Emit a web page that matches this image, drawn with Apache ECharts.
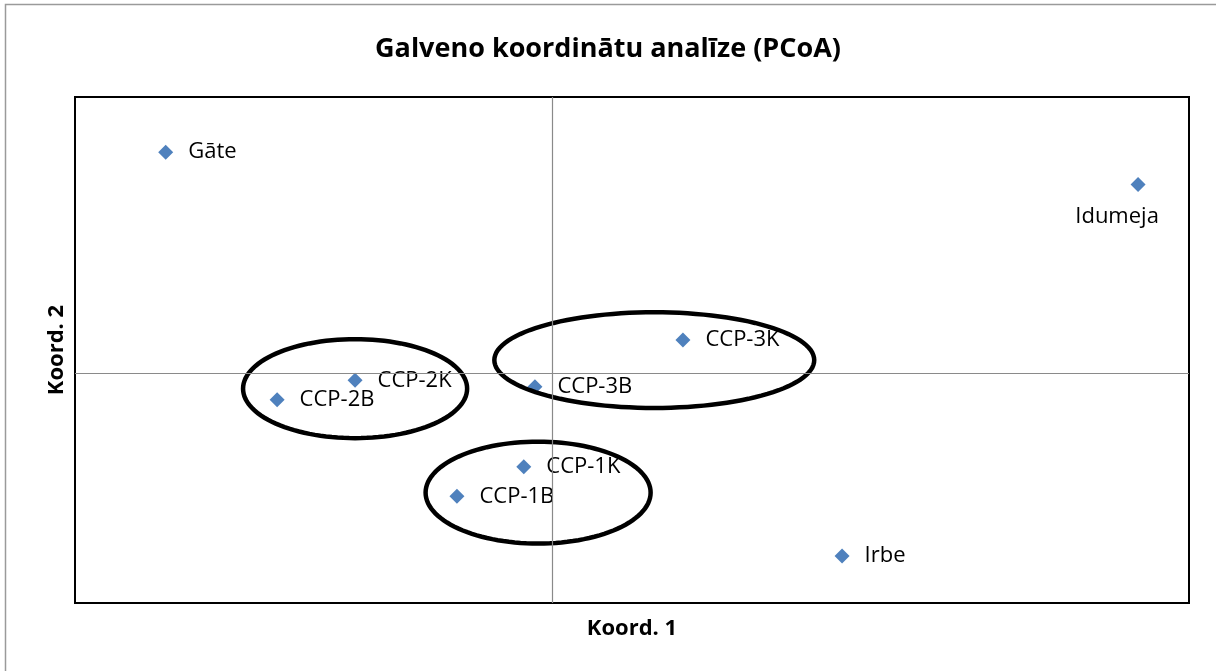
<!DOCTYPE html>
<html>
<head>
<meta charset="utf-8">
<script src="https://cdn.jsdelivr.net/npm/echarts@6/dist/echarts.min.js"></script>
<style>
html,body{margin:0;padding:0;background:#fff;}
#c{width:1216px;height:671px;}
</style>
</head>
<body>
<div id="c"></div>
<script>
// Sample names and PCoA coordinates
const names = ['Gāte', 'Idumeja', 'CCP-2K', 'CCP-2B', 'CCP-1K', 'CCP-1B', 'CCP-3B', 'CCP-3K', 'Irbe'];
const koord1 = [-0.243, 0.368, -0.124, -0.173, -0.018, -0.060, -0.011, 0.082, 0.182];
const koord2 = [0.240, 0.205, -0.008, -0.029, -0.102, -0.134, -0.015, 0.036, -0.199];
// Group ellipses: centre x, centre y, radius x, radius y (data units)
const ellipseCx = [-0.124, 0.064, -0.009];
const ellipseCy = [-0.017, 0.014, -0.130];
const ellipseRx = [0.0704, 0.1005, 0.0707];
const ellipseRy = [0.0538, 0.052, 0.0554];

const FONT = '"Open Sans", "Noto Sans", sans-serif';

const pointData = names.map((n, i) => {
  const item = { name: n, value: [koord1[i], koord2[i]] };
  if (n === 'Idumeja') {
    item.label = { position: 'bottom', distance: 14, offset: [-21, 0] };
  }
  return item;
});
const ellipseData = ellipseCx.map((cx, i) => [cx, ellipseCy[i], ellipseRx[i], ellipseRy[i]]);

const chart = echarts.init(document.getElementById('c'), null, { renderer: 'canvas' });
chart.setOption({
  backgroundColor: '#fff',
  animation: false,
  title: {
    text: 'Galveno koordinātu analīze (PCoA)',
    left: 'center',
    top: 31,
    textStyle: { fontFamily: FONT, fontWeight: 'bold', fontSize: 27, color: '#000' }
  },
  graphic: [{
    type: 'rect', left: 3, top: 2, silent: true,
    shape: { width: 1300, height: 800 },
    style: { fill: 'none', stroke: '#9a9a9a', lineWidth: 1.5 }
  }],
  grid: {
    left: 75, right: 27, top: 97, bottom: 68,
    show: true, borderColor: '#000', borderWidth: 2, backgroundColor: 'transparent'
  },
  xAxis: {
    type: 'value', min: -0.3, max: 0.4,
    name: 'Koord. 1', nameLocation: 'middle', nameGap: 15,
    nameTextStyle: { fontFamily: FONT, fontWeight: 'bold', fontSize: 22, color: '#000' },
    axisLine: { show: false, onZero: false }, axisTick: { show: false },
    axisLabel: { show: false }, splitLine: { show: false }
  },
  yAxis: {
    type: 'value', min: -0.25, max: 0.3,
    name: 'Koord. 2', nameLocation: 'middle', nameGap: 7,
    nameTextStyle: { fontFamily: FONT, fontWeight: 'bold', fontSize: 22, color: '#000' },
    axisLine: { show: false, onZero: false }, axisTick: { show: false },
    axisLabel: { show: false }, splitLine: { show: false }
  },
  series: [{
    type: 'scatter',
    data: pointData,
    symbol: 'diamond',
    symbolSize: 15,
    itemStyle: { color: '#4F81BD', opacity: 1 },
    label: {
      show: true, position: 'right', distance: 15,
      formatter: '{b}',
      fontFamily: FONT, fontSize: 22, color: '#000'
    },
    markLine: {
      silent: true, symbol: 'none', animation: false,
      label: { show: false },
      lineStyle: { color: '#8a8a8a', width: 1.2, type: 'solid' },
      data: [{ xAxis: 0 }, { yAxis: 0 }]
    },
    z: 3
  }, {
    type: 'custom',
    data: ellipseData,
    silent: true,
    z: 4,
    renderItem: function (params, api) {
      const c = api.coord([api.value(0), api.value(1)]);
      const s = api.size([api.value(2), api.value(3)]);
      const pts = [];
      for (let k = 0; k < 120; k++) {
        const t = k / 120 * Math.PI * 2;
        pts.push([c[0] + s[0] * Math.cos(t), c[1] + s[1] * Math.sin(t)]);
      }
      return {
        type: 'polygon',
        shape: { points: pts },
        style: { fill: 'none', stroke: '#000', lineWidth: 4.5 }
      };
    }
  }]
});
</script>
</body>
</html>
